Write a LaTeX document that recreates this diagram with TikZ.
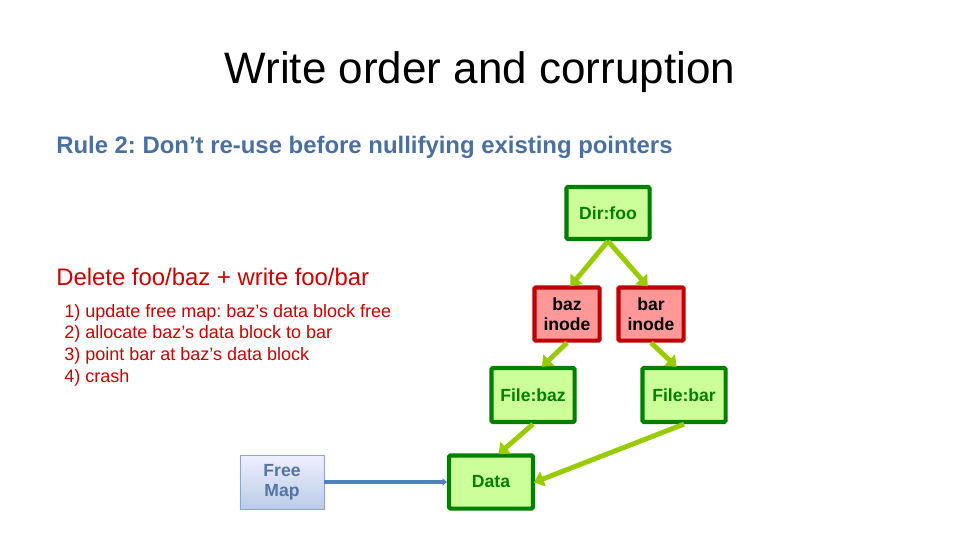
\documentclass[tikz,border=0pt]{standalone}
\usepackage{fontspec}
\setmainfont{Liberation Sans}
\frenchspacing
\usetikzlibrary{arrows.meta}
\definecolor{rulegray}{RGB}{74,112,162}
\definecolor{deletered}{RGB}{204,0,0}
\definecolor{dirgreen}{RGB}{0,128,0}
\definecolor{dirfill}{RGB}{204,255,153}
\definecolor{inodered}{RGB}{192,0,0}
\definecolor{inodefill}{RGB}{255,153,153}
\definecolor{linkgreen}{RGB}{153,204,0}
\definecolor{mapblue}{RGB}{79,129,189}
\definecolor{mapborder}{RGB}{140,165,205}
\definecolor{maptext}{RGB}{85,115,165}

\begin{document}
\begin{tikzpicture}[x=0.025cm, y=-0.025cm,
    every node/.style={font=\fontsize{12.5}{14.5}\selectfont\bfseries},
    greenbox/.style={draw=dirgreen,line width=3pt,fill=dirfill,text=dirgreen,rounded corners=1pt,align=center,inner sep=0pt},
    redbox/.style={draw=inodered,line width=3pt,fill=inodefill,text=black,rounded corners=1pt,align=center,inner sep=0pt,minimum width=1.63cm,minimum height=1.33cm},
    link/.style={-{Triangle[length=7pt,width=11pt]},line width=3.5pt,linkgreen,shorten >=-1pt}]

    \useasboundingbox (0,0) rectangle (960,540);

    % === Title and rule ===
    \node[anchor=base,font=\fontsize{31.3}{36}\selectfont] (title) at (480,83) {Write order and corruption};
    \node[anchor=base west,text=rulegray,inner sep=0pt,font=\fontsize{17}{19}\selectfont\bfseries] (rule) at (56,153) {Rule 2: Don’t re-use before nullifying existing pointers};

    % === Steps on the left ===
    \node[anchor=base west,text=deletered,inner sep=0pt,font=\fontsize{17}{20}\selectfont] (delete) at (56,285) {Delete foo/baz + write foo/bar};
    \node[anchor=north west,text=deletered,inner sep=0pt,align=left,font=\fontsize{12.8}{15.4}\selectfont] (steps) at (64,304)
        {1) update free map: baz’s data block free\\2) allocate baz’s data block to bar\\3) point bar at baz’s data block\\4) crash};

    % === Directory, inodes and files ===
    \node[greenbox,minimum width=2.08cm,minimum height=1.3cm] (dir) at (608,213) {Dir:foo};
    \node[redbox] (bazinode) at (567,314) {baz\\inode};
    \node[redbox] (barinode) at (651,314) {bar\\inode};
    \node[greenbox,minimum width=2.08cm,minimum height=1.35cm] (filebaz) at (533,395) {File:baz};
    \node[greenbox,minimum width=2.08cm,minimum height=1.35cm] (filebar) at (684,395) {File:bar};
    \node[greenbox,minimum width=2.1cm,minimum height=1.33cm] (data) at (491,482) {Data};
    \node[draw=mapborder,line width=0.6pt,top color=blue!6,bottom color=mapblue!40,text=maptext,align=center,inner sep=0pt,minimum width=2.1cm,minimum height=1.35cm] (freemap) at (282,482) {Free\\Map};

    % === Pointers ===
    \draw[link] (dir.south) -- ([xshift=3]bazinode.north);
    \draw[link] (dir.south) -- ([xshift=-3]barinode.north);
    \draw[link] (bazinode.south) -- ([xshift=7]filebaz.north);
    \draw[link] (barinode.south) -- ([xshift=-6]filebar.north);
    \draw[link] (filebaz.south) -- ([xshift=6]data.north);
    \draw[link] (filebar.south) -- (data.east);
    \draw[-{Triangle[length=3pt,width=5pt]},line width=2.2pt,mapblue] (freemap.east) -- (data.west);
\end{tikzpicture}
\end{document}
